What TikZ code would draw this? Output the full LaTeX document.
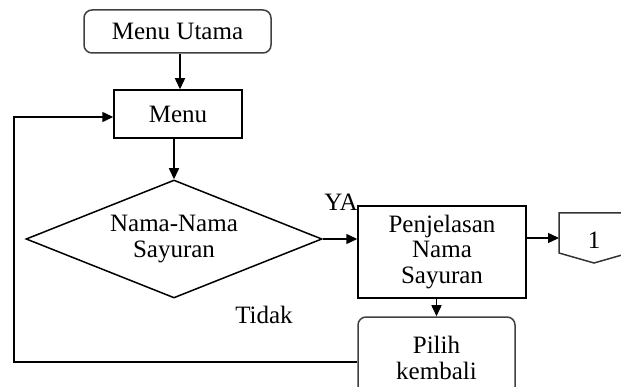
\documentclass[tikz,border=0pt]{standalone}
\usepackage{fontspec}
\setmainfont{Liberation Serif}
\usetikzlibrary{shapes.geometric,arrows.meta,calc}
\tikzset{
  base/.style={draw, line width=1.5pt, inner sep=0pt, align=center,
    font=\fontsize{25}{25.5}\selectfont},
  terminal/.style={base, rounded corners=8pt, draw=black!75},
  procbox/.style={base, rectangle},
  decision/.style={base, diamond, aspect=2.5},
  flow/.style={line width=1.5pt, -{Triangle[length=11pt,width=10pt]}},
  lbl/.style={font=\fontsize{25}{25.5}\selectfont, inner sep=0pt}
}
\begin{document}
\begin{tikzpicture}[x=1pt,y=-1pt]
\clip (0,0) rectangle (621,387);

% process nodes
\node[terminal, minimum width=187pt, minimum height=43pt] (mu) at (177.5,31.5) {Menu Utama};
\node[procbox, minimum width=128pt, minimum height=48pt] (menu) at (178,114) {Menu};
\node[decision, minimum width=296pt, minimum height=118pt] (dia) at (174,239) {Nama-Nama\\Sayuran};
\node[procbox, minimum width=168pt, minimum height=92pt] (pen) at (442,252) {Penjelasan\\Nama\\Sayuran};
\node[terminal, minimum width=157pt, minimum height=82pt] (pil) at (436.5,358) {Pilih\\kembali};

% off-page connector
\draw[line width=1.5pt, draw=black!80] (559,213) -- (559,253) -- (594,263) -- (629,253) -- (629,213) -- cycle;
\node[lbl] (one) at (594,240) {1};
\coordinate (offin) at (559,238);

% labels
\node[lbl] (ya) at (341,202) {YA};
\node[lbl] (tidak) at (264,315) {Tidak};

% connectors
\coordinate (mudrop) at (180,0);
\draw[flow] (mu.south -| mudrop) -- (menu.north -| mudrop);
\draw[flow] (dia.north |- menu.south) -- (dia.north);
\draw[flow] (dia.east) -- (pen.west |- dia.east);
\draw[flow] (pen.east |- offin) -- (offin);
\draw[flow] (pen.south -| pil.north) -- (pil.north);
\coordinate (loopbl) at (14,362);
\coordinate (looptl) at (14,117);
\draw[flow] (pil.west |- loopbl) -- (loopbl) -- (looptl) -- (menu.west |- looptl);
\end{tikzpicture}
\end{document}
